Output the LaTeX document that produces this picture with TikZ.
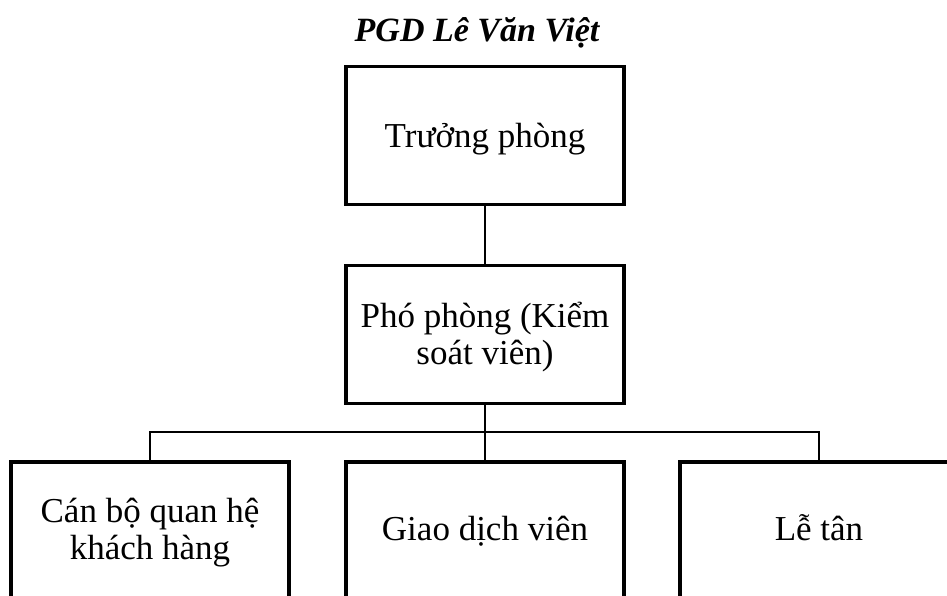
\documentclass[tikz,border=0pt]{standalone}
\usepackage{fontspec}
\setmainfont{Liberation Serif}
\begin{document}
\begin{tikzpicture}[x=1pt,y=-1pt,
  box/.style={draw, line width=3.5pt, minimum width=278pt, minimum height=138pt, inner sep=0pt},
  lowbox/.style={box, anchor=north, minimum height=150pt},
  lbl/.style={anchor=base, inner sep=0pt, font=\fontsize{35}{37}\selectfont},
  conn/.style={line width=2.2pt}]
\useasboundingbox (0,0) rectangle (947,596);
\clip (0,0) rectangle (947,596);
\node[anchor=base, inner sep=0pt, font=\fontsize{34}{38}\selectfont\bfseries\itshape] (title) at (477,42) {PGD Lê Văn Việt};
\node[box] (tp) at (485,135.5) {};
\node[box] (pp) at (485,334.5) {};
\node[lowbox] (b1) at (150,460) {};
\node[lowbox] (b2) at (485,460) {};
\node[lowbox] (b3) at (819,460) {};
\node[lbl] (tpt) at (485,148) {Trưởng phòng};
\node[lbl] (ppa) at (485,327) {Phó phòng (Kiểm};
\node[lbl] (ppb) at (485,364) {soát viên)};
\node[lbl] (t1a) at (150,522) {Cán bộ quan hệ};
\node[lbl] (t1b) at (150,559) {khách hàng};
\node[lbl] (t2) at (485,540) {Giao dịch viên};
\node[lbl] (t3) at (819,540) {Lễ tân};
\coordinate (j) at (485,432);
\draw[conn] (tp) -- (pp);
\draw[conn] (pp.south) -- (j);
\draw[conn] (b1.north) |- (j) -| (b3.north);
\draw[conn] (j) -- (b2.north);
\end{tikzpicture}
\end{document}
